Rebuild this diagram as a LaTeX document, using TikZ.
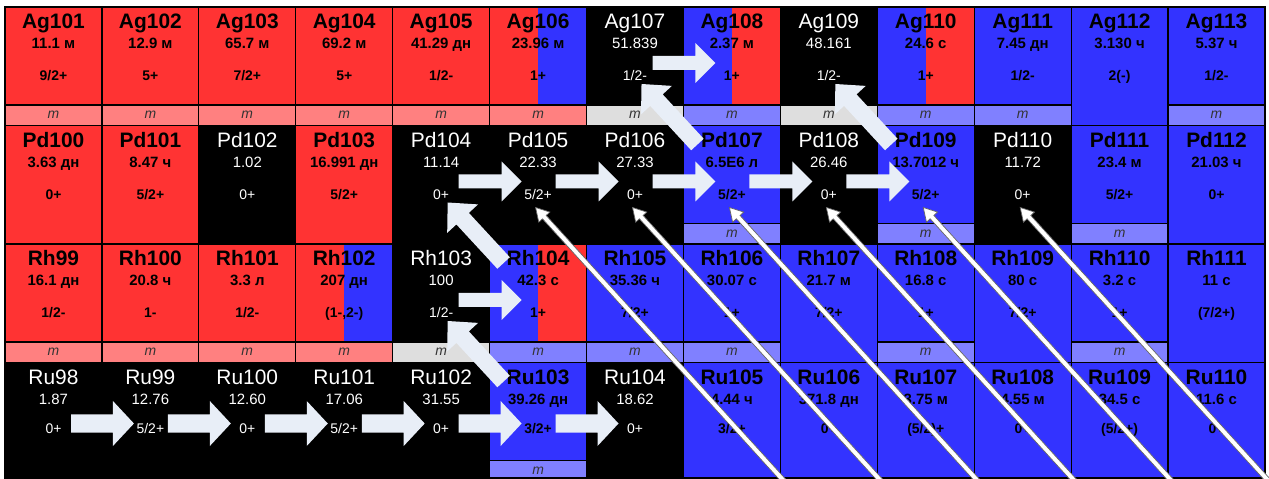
\documentclass[tikz,border=0pt]{standalone}
\usepackage{fontspec}
\setmainfont{Liberation Sans}
\usetikzlibrary{calc}
\definecolor{nred}{RGB}{255,51,51}
\definecolor{nblue}{RGB}{51,51,255}
\definecolor{mred}{RGB}{255,128,128}
\definecolor{mblue}{RGB}{128,128,255}
\definecolor{mgray}{RGB}{222,222,222}
\definecolor{arrfill}{RGB}{232,238,247}
\tikzset{
  cellbox/.style={draw=black, line width=1.2bp, inner sep=0pt, outer sep=0pt, anchor=north west},
  nmf/.style={font=\fontsize{21}{23}\selectfont, inner sep=0pt, anchor=base},
  hlf/.style={font=\fontsize{15}{17}\selectfont, inner sep=0pt, anchor=base},
  spf/.style={font=\fontsize{14}{16}\selectfont, inner sep=0pt, anchor=base},
  mf/.style={font=\fontsize{14}{16}\selectfont\itshape, inner sep=0pt, anchor=base, text=black!80},
  tB/.style={text=black, execute at begin node=\bfseries},
  tW/.style={text=white},
  bigarr/.style={fill=arrfill},
  thinarr/.style={fill=white, draw=black!60, line width=0.7bp, line join=miter},
}
\def\nostrip{none}
\newcommand{\nuc}[9]{%
  \pgfmathsetmacro\nL{5+#1*96.92}%
  \pgfmathsetmacro\nM{\nL+48.46}%
  \pgfmathsetmacro\nR{\nL+96.92}%
  \pgfmathsetmacro\nT{7+#2*118.5}%
  \pgfmathsetmacro\nB{min(\nT+118.5,478)}%
  \pgfmathsetmacro\nS{\nT+98}%
  \pgfmathsetmacro\nAY{#2==3 ? 61 : 56}%
  \pgfmathsetmacro\nSP{#2==3 ? 71 : 74}%
  \def\nstrip{#8}%
  \ifx\nstrip\nostrip\let\nMB\nB\else\let\nMB\nS\fi
  \pgfmathsetmacro\nH{\nMB-\nT}%
  \fill[#6] (\nL,\nT) rectangle (\nM,\nMB);
  \fill[#7] (\nM,\nT) rectangle (\nR,\nMB);
  \node[cellbox, minimum width=96.92bp, minimum height=\nH bp] (#3) at (\nL,\nT) {};
  \ifx\nstrip\nostrip\else
    \pgfmathsetmacro\nSH{\nB-\nS}%
    \node[cellbox, fill=#8, minimum width=96.92bp, minimum height=\nSH bp] (#3-strip) at (\nL,\nS) {};
    \node[mf] (#3-m) at (\nM,\nS+14) {m};
  \fi
  \node[nmf,#9] (#3-n) at (\nM,\nT+22) {#3};
  \node[hlf,#9] (#3-t) at (\nM,\nT+42) {#4};
  \node[spf,#9] (#3-s) at (\nM,\nT+\nSP) {#5};
  \coordinate (#3-in) at (\nL+32,\nT+\nAY);
  \coordinate (#3-out) at (\nL+66,\nT+\nAY);
  \coordinate (#3-dtail) at (\nL+14,\nT+19);
  \coordinate (#3-dtip) at (\nL+55,\nT+77);
  \coordinate (#3-btip) at (\nL+46,\nT+82);
  \coordinate (#3-bend) at (\nL+303,\nT+365);
}
% style, from, to, shaft half width, head half width, head length
\newcommand{\blockarrow}[6]{%
  \coordinate (ba-base) at ($(#3)!#6!(#2)$);
  \path[#1] ($(#2)!#4!90:(#3)$) -- ($(ba-base)!#4!90:(#3)$) -- ($(ba-base)!#5!90:(#3)$)
    -- (#3) -- ($(ba-base)!#5!-90:(#3)$) -- ($(ba-base)!#4!-90:(#3)$) -- ($(#2)!#4!-90:(#3)$) -- cycle;
}
\begin{document}
\begin{tikzpicture}[x=1bp, y=-1bp]
\useasboundingbox (0,0) rectangle (1269,479);
\clip (0,0) rectangle (1269,479);
% Ag row
\nuc{0}{0}{Ag101}{11.1 м}{9/2+}{nred}{nred}{mred}{tB}
\nuc{1}{0}{Ag102}{12.9 м}{5+}{nred}{nred}{mred}{tB}
\nuc{2}{0}{Ag103}{65.7 м}{7/2+}{nred}{nred}{mred}{tB}
\nuc{3}{0}{Ag104}{69.2 м}{5+}{nred}{nred}{mred}{tB}
\nuc{4}{0}{Ag105}{41.29 дн}{1/2-}{nred}{nred}{mred}{tB}
\nuc{5}{0}{Ag106}{23.96 м}{1+}{nred}{nblue}{mred}{tB}
\nuc{6}{0}{Ag107}{51.839}{1/2-}{black}{black}{mgray}{tW}
\nuc{7}{0}{Ag108}{2.37 м}{1+}{nblue}{nred}{mblue}{tB}
\nuc{8}{0}{Ag109}{48.161}{1/2-}{black}{black}{mgray}{tW}
\nuc{9}{0}{Ag110}{24.6 с}{1+}{nblue}{nred}{mblue}{tB}
\nuc{10}{0}{Ag111}{7.45 дн}{1/2-}{nblue}{nblue}{mblue}{tB}
\nuc{11}{0}{Ag112}{3.130 ч}{2(-)}{nblue}{nblue}{none}{tB}
\nuc{12}{0}{Ag113}{5.37 ч}{1/2-}{nblue}{nblue}{mblue}{tB}
% Pd row
\nuc{0}{1}{Pd100}{3.63 дн}{0+}{nred}{nred}{none}{tB}
\nuc{1}{1}{Pd101}{8.47 ч}{5/2+}{nred}{nred}{none}{tB}
\nuc{2}{1}{Pd102}{1.02}{0+}{black}{black}{none}{tW}
\nuc{3}{1}{Pd103}{16.991 дн}{5/2+}{nred}{nred}{none}{tB}
\nuc{4}{1}{Pd104}{11.14}{0+}{black}{black}{none}{tW}
\nuc{5}{1}{Pd105}{22.33}{5/2+}{black}{black}{none}{tW}
\nuc{6}{1}{Pd106}{27.33}{0+}{black}{black}{none}{tW}
\nuc{7}{1}{Pd107}{6.5E6 л}{5/2+}{nblue}{nblue}{mblue}{tB}
\nuc{8}{1}{Pd108}{26.46}{0+}{black}{black}{none}{tW}
\nuc{9}{1}{Pd109}{13.7012 ч}{5/2+}{nblue}{nblue}{mblue}{tB}
\nuc{10}{1}{Pd110}{11.72}{0+}{black}{black}{none}{tW}
\nuc{11}{1}{Pd111}{23.4 м}{5/2+}{nblue}{nblue}{mblue}{tB}
\nuc{12}{1}{Pd112}{21.03 ч}{0+}{nblue}{nblue}{none}{tB}
% Rh row
\nuc{0}{2}{Rh99}{16.1 дн}{1/2-}{nred}{nred}{mred}{tB}
\nuc{1}{2}{Rh100}{20.8 ч}{1-}{nred}{nred}{mred}{tB}
\nuc{2}{2}{Rh101}{3.3 л}{1/2-}{nred}{nred}{mred}{tB}
\nuc{3}{2}{Rh102}{207 дн}{(1-,2-)}{nred}{nblue}{mred}{tB}
\nuc{4}{2}{Rh103}{100}{1/2-}{black}{black}{mgray}{tW}
\nuc{5}{2}{Rh104}{42.3 с}{1+}{nblue}{nred}{mblue}{tB}
\nuc{6}{2}{Rh105}{35.36 ч}{7/2+}{nblue}{nblue}{mblue}{tB}
\nuc{7}{2}{Rh106}{30.07 с}{1+}{nblue}{nblue}{mblue}{tB}
\nuc{8}{2}{Rh107}{21.7 м}{7/2+}{nblue}{nblue}{none}{tB}
\nuc{9}{2}{Rh108}{16.8 с}{1+}{nblue}{nblue}{mblue}{tB}
\nuc{10}{2}{Rh109}{80 с}{7/2+}{nblue}{nblue}{none}{tB}
\nuc{11}{2}{Rh110}{3.2 с}{1+}{nblue}{nblue}{mblue}{tB}
\nuc{12}{2}{Rh111}{11 с}{(7/2+)}{nblue}{nblue}{none}{tB}
% Ru row
\nuc{0}{3}{Ru98}{1.87}{0+}{black}{black}{none}{tW}
\nuc{1}{3}{Ru99}{12.76}{5/2+}{black}{black}{none}{tW}
\nuc{2}{3}{Ru100}{12.60}{0+}{black}{black}{none}{tW}
\nuc{3}{3}{Ru101}{17.06}{5/2+}{black}{black}{none}{tW}
\nuc{4}{3}{Ru102}{31.55}{0+}{black}{black}{none}{tW}
\nuc{5}{3}{Ru103}{39.26 дн}{3/2+}{nblue}{nblue}{mblue}{tB}
\nuc{6}{3}{Ru104}{18.62}{0+}{black}{black}{none}{tW}
\nuc{7}{3}{Ru105}{4.44 ч}{3/2+}{nblue}{nblue}{none}{tB}
\nuc{8}{3}{Ru106}{371.8 дн}{0+}{nblue}{nblue}{none}{tB}
\nuc{9}{3}{Ru107}{3.75 м}{(5/2)+}{nblue}{nblue}{none}{tB}
\nuc{10}{3}{Ru108}{4.55 м}{0+}{nblue}{nblue}{none}{tB}
\nuc{11}{3}{Ru109}{34.5 с}{(5/2+)}{nblue}{nblue}{none}{tB}
\nuc{12}{3}{Ru110}{11.6 с}{0+}{nblue}{nblue}{none}{tB}
% horizontal capture arrows
\blockarrow{bigarr}{Ag107-out}{Ag108-in}{7bp}{20bp}{20bp}
\blockarrow{bigarr}{Pd104-out}{Pd105-in}{7bp}{20bp}{20bp}
\blockarrow{bigarr}{Pd105-out}{Pd106-in}{7bp}{20bp}{20bp}
\blockarrow{bigarr}{Pd106-out}{Pd107-in}{7bp}{20bp}{20bp}
\blockarrow{bigarr}{Pd107-out}{Pd108-in}{7bp}{20bp}{20bp}
\blockarrow{bigarr}{Pd108-out}{Pd109-in}{7bp}{20bp}{20bp}
\blockarrow{bigarr}{Rh103-out}{Rh104-in}{7bp}{20bp}{20bp}
\blockarrow{bigarr}{Ru98-out}{Ru99-in}{9bp}{22.5bp}{21bp}
\blockarrow{bigarr}{Ru99-out}{Ru100-in}{9bp}{22.5bp}{21bp}
\blockarrow{bigarr}{Ru100-out}{Ru101-in}{9bp}{22.5bp}{21bp}
\blockarrow{bigarr}{Ru101-out}{Ru102-in}{9bp}{22.5bp}{21bp}
\blockarrow{bigarr}{Ru102-out}{Ru103-in}{9bp}{22.5bp}{21bp}
\blockarrow{bigarr}{Ru103-out}{Ru104-in}{9bp}{22.5bp}{21bp}
% diagonal decay arrows
\blockarrow{bigarr}{Pd107-dtail}{Ag107-dtip}{8.5bp}{21bp}{22bp}
\blockarrow{bigarr}{Pd109-dtail}{Ag109-dtip}{8.5bp}{21bp}{22bp}
\blockarrow{bigarr}{Rh104-dtail}{Pd104-dtip}{8.5bp}{21bp}{22bp}
\blockarrow{bigarr}{Ru103-dtail}{Rh103-dtip}{8.5bp}{21bp}{22bp}
% thin long arrows
\blockarrow{thinarr}{Pd105-bend}{Pd105-btip}{2.5bp}{7.5bp}{13bp}
\blockarrow{thinarr}{Pd106-bend}{Pd106-btip}{2.5bp}{7.5bp}{13bp}
\blockarrow{thinarr}{Pd107-bend}{Pd107-btip}{2.5bp}{7.5bp}{13bp}
\blockarrow{thinarr}{Pd108-bend}{Pd108-btip}{2.5bp}{7.5bp}{13bp}
\blockarrow{thinarr}{Pd109-bend}{Pd109-btip}{2.5bp}{7.5bp}{13bp}
\blockarrow{thinarr}{Pd110-bend}{Pd110-btip}{2.5bp}{7.5bp}{13bp}
\end{tikzpicture}
\end{document}
